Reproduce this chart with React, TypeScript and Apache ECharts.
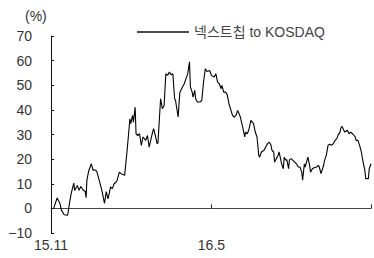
import React, { useEffect, useRef } from "react";
import * as echarts from "echarts";

// day offsets from 2015-11-01
const days: number[] = [
  3, 7, 10, 12, 15, 19, 21, 23, 26, 27, 30, 32, 34, 37, 39, 40, 41, 43, 46, 48, 49, 52, 55, 58,
  61, 63, 65, 68, 70, 72, 75, 78, 80, 84, 87, 90, 91, 93, 94, 96, 97, 99, 101, 103, 105, 108,
  110, 112, 115, 117, 119, 121, 122, 125, 127, 129, 131, 133, 135, 137, 139, 141, 142, 145, 147,
  150, 152, 154, 156, 158, 159, 161, 162, 164, 165, 167, 170, 172, 174, 176, 178, 181, 183, 186,
  188, 190, 192, 194, 195, 197, 199, 201, 203, 207, 209, 211, 213, 216, 219, 221, 222, 224, 226,
  228, 231, 233, 235, 237, 238, 240, 243, 245, 247, 249, 251, 252, 254, 255, 257, 259, 260, 261,
  263, 265, 266, 268, 269, 271, 272, 274, 276, 278, 280, 282, 284, 286, 287, 289, 290, 292, 293,
  295, 296, 298, 300, 303, 305, 306, 308, 311, 312, 314, 316, 318, 320, 322, 324, 326, 328, 329,
  331, 332, 334, 335, 338, 340, 342, 344, 347, 348, 350, 352, 354, 356, 358, 359, 362, 363, 365,
];

const values: number[] = [
  0, 4.2, 2.2, -0.8, -2.6, -2.8, 1.9, 6, 10.3, 7.3, 9.3, 7.3, 8.9, 7.3, 7, 4.3, 11.6, 15.2, 18.1,
  15.4, 15.7, 15.2, 11.4, 7.3, 2, 6.8, 3.9, 8.7, 8, 10, 11, 14.7, 14.1, 13.4, 24.2, 36.4, 34.4,
  37.8, 35, 41.1, 30.3, 29.6, 30.3, 25.6, 29, 27.6, 29.6, 24.9, 29.6, 32.4, 29.6, 26.3, 26.5, 44.5,
  40.5, 41.8, 54.7, 54, 55.4, 54.3, 54.7, 44.5, 43.9, 37.1, 47.2, 49.3, 50.6, 52.7, 54.7, 59.5,
  49.3, 47.2, 45.2, 47.9, 44.5, 43.2, 43.2, 43.9, 51.3, 56.7, 55.6, 56, 54, 53.3, 54.7, 51.3, 50.6,
  48.6, 49.9, 47.2, 47.2, 46.2, 42.5, 37.8, 37.1, 37.8, 39.8, 37.1, 32.4, 29, 31, 30.3, 32.4, 35.7,
  34.4, 31, 29, 21.5, 20.8, 22.9, 23.6, 25, 26.3, 26.9, 25.6, 23.6, 22.9, 18.8, 20.2, 21.5, 22.9,
  21.5, 18.1, 16.1, 20.8, 19.5, 19.8, 16.1, 19.8, 20.2, 19.5, 18.8, 18.1, 16.8, 16.8, 14.7, 11.4,
  18.1, 16.8, 19.5, 20.8, 17.5, 14.7, 16, 16.5, 16.8, 17.5, 16.8, 14.1, 17.5, 19.5, 21.5, 25.6, 26,
  25.6, 26.3, 27.6, 28.3, 30.3, 30.3, 33, 33.3, 31.7, 31, 31.7, 30.3, 31, 30.3, 29, 27.6, 27.6,
  25.6, 22.9, 18.8, 15.4, 12.1, 12.1, 16.1, 18.1,
];

const xTickLabels: Record<number, string> = { 0: "15.11", 183: "16.5" };
const seriesName = "넥스트칩 to KOSDAQ";
const yUnit = "(%)";

const FONT = "'Liberation Sans', Arial, 'Noto Sans CJK KR', sans-serif";

export default function App() {
  const ref = useRef<HTMLDivElement>(null);
  useEffect(() => {
    if (!ref.current) return;
    const chart = echarts.init(ref.current, null, { renderer: "svg" });
    const xBase = { type: "value", min: 0, max: 365, interval: 183, splitLine: { show: false } };
    chart.setOption({
      animation: false,
      grid: { left: 51, right: 0, top: 36, bottom: 25 },
      graphic: [
        {
          type: "text",
          left: 25,
          top: 9,
          style: { text: yUnit, fontSize: 14, fontFamily: FONT, fill: "#333" },
        },
      ],
      legend: {
        left: 137,
        top: 25,
        padding: 0,
        itemWidth: 52,
        itemHeight: 1.3,
        itemGap: 4,
        textStyle: { fontSize: 14, fontFamily: FONT, color: "#444", padding: [0, 0, 0, 0] },
        data: [{ name: seriesName, icon: "rect", itemStyle: { color: "#111" } }],
      },
      xAxis: [
        {
          ...xBase,
          position: "bottom",
          axisLine: { show: false, onZero: false },
          axisTick: { show: false },
          axisLabel: {
            fontSize: 14,
            fontFamily: FONT,
            color: "#333",
            margin: 5,
            formatter: (v: number) => xTickLabels[v] ?? "",
          },
        },
        {
          ...xBase,
          position: "bottom",
          axisLine: { show: true, onZero: true, lineStyle: { color: "#444", width: 1.2 } },
          axisTick: { show: true, inside: true, length: 4, lineStyle: { color: "#222" } },
          axisLabel: { show: false },
        },
      ],
      yAxis: {
        type: "value",
        min: -10,
        max: 70,
        interval: 10,
        splitLine: { show: false },
        axisLine: { show: true, onZero: false, lineStyle: { color: "#111", width: 1 } },
        axisTick: { show: true, inside: true, length: 3, lineStyle: { color: "#111" } },
        axisLabel: {
          fontSize: 14,
          fontFamily: FONT,
          color: "#333",
          margin: 19,
          formatter: (v: number) => (v < 0 ? "\u2212" + Math.abs(v) : String(v)),
        },
      },
      series: [
        {
          name: seriesName,
          type: "line",
          xAxisIndex: 0,
          symbol: "none",
          data: days.map((d, i) => [d, values[i]]),
          lineStyle: { color: "#000", width: 1.1 },
          itemStyle: { color: "#000" },
        },
      ],
    });
    return () => chart.dispose();
  }, []);
  return <div ref={ref} style={{ width: 374, height: 258, position: "absolute", left: 0, top: 0 }} />;
}
